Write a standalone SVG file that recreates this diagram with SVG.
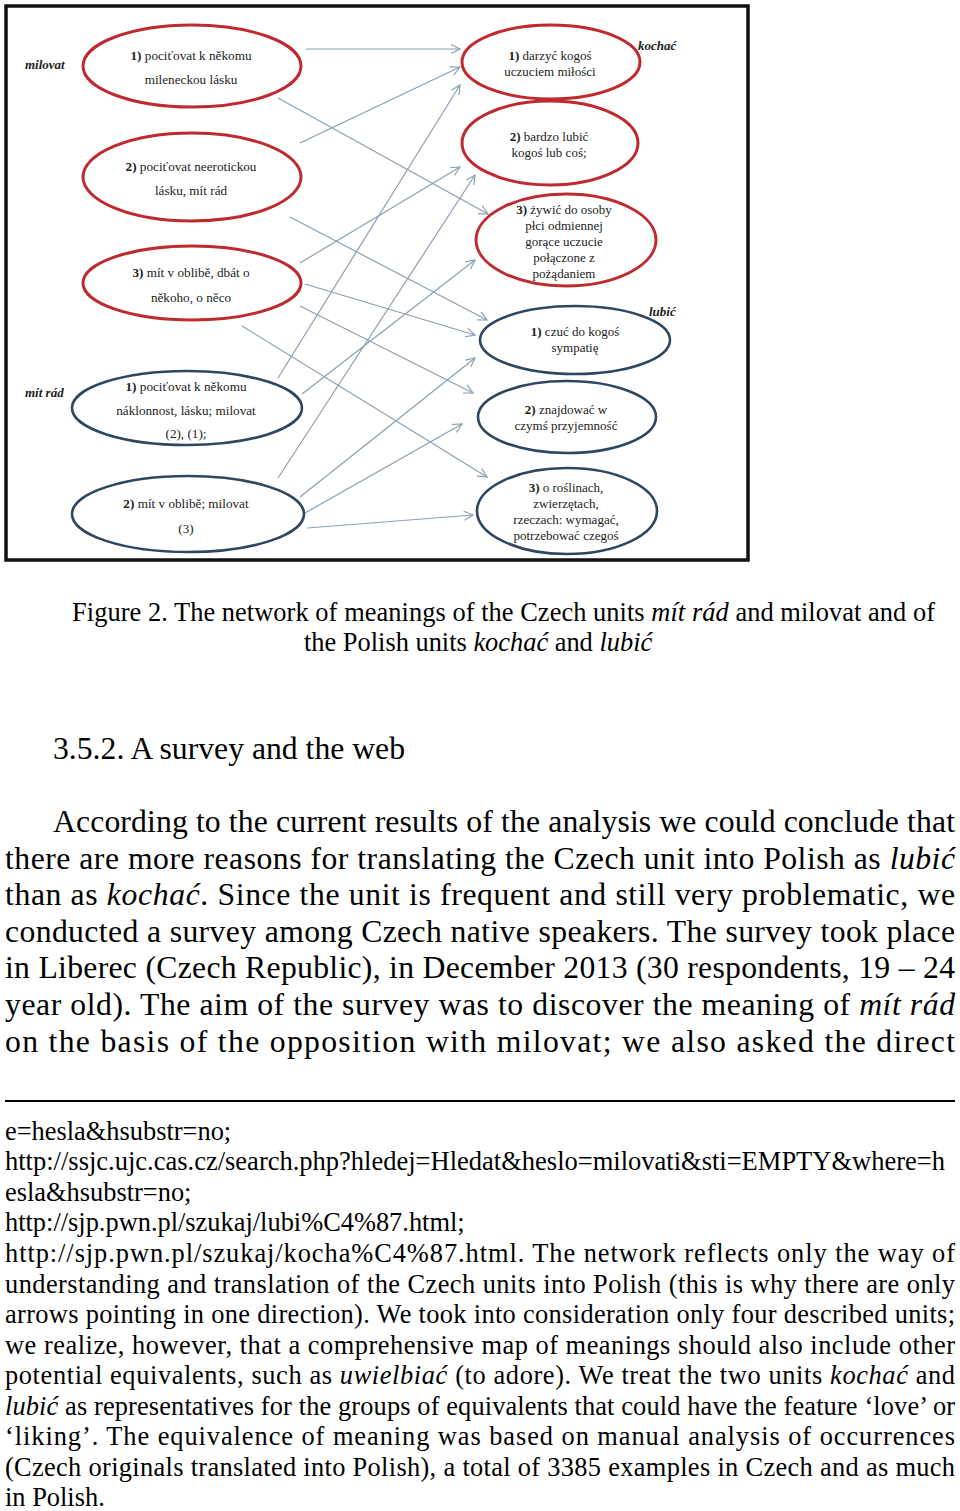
<svg xmlns="http://www.w3.org/2000/svg" width="960" height="1511" viewBox="0 0 960 1511">
<defs>
<marker id="ah" markerWidth="12" markerHeight="12" refX="10" refY="6" orient="auto" markerUnits="userSpaceOnUse">
<path d="M1,1.5 L10,6 L1,10.5" fill="none" stroke="#8b9fb2" stroke-width="1.2"/>
</marker>
<style>
.red{fill:#fff;stroke:#be2a2e;stroke-width:3}
.blue{fill:#fff;stroke:#2f4661;stroke-width:2.6}
.et{font-family:"Liberation Serif","Times New Roman",serif;font-size:13.2px;fill:#222;text-anchor:middle}
.rt{font-family:"Liberation Serif","Times New Roman",serif;font-size:13px;fill:#222;text-anchor:middle}
.lab{font-family:"Liberation Serif","Times New Roman",serif;font-size:13px;font-style:italic;font-weight:bold;fill:#222}
.c line{stroke:#8b9fb2;stroke-width:1.2;marker-end:url(#ah)}
.body{font-family:"Liberation Serif","Times New Roman",serif;fill:#000}
.cap{font-size:26.4px}
.para{font-size:31.7px}
.fn{font-size:26.4px}
.i{font-style:italic}
</style>
</defs>
<rect x="0" y="0" width="960" height="1511" fill="#fff"/>
<rect x="6" y="6" width="742" height="554" fill="#fff" stroke="#111" stroke-width="3.5"/>

<g class="c">
<line x1="306" y1="49" x2="460" y2="49"/>
<line x1="278" y1="98" x2="488" y2="214"/>
<line x1="300" y1="143" x2="460" y2="67"/>
<line x1="290" y1="217" x2="487" y2="320"/>
<line x1="300" y1="263" x2="460" y2="167"/>
<line x1="305" y1="284" x2="475" y2="335"/>
<line x1="300" y1="306" x2="473" y2="393"/>
<line x1="242" y1="326" x2="487" y2="477"/>
<line x1="278" y1="378" x2="460" y2="85"/>
<line x1="302" y1="394" x2="475" y2="260"/>
<line x1="278" y1="478" x2="475" y2="175"/>
<line x1="300" y1="497" x2="475" y2="358"/>
<line x1="305" y1="513" x2="462" y2="424"/>
<line x1="307" y1="528" x2="473" y2="515"/>
</g>

<text class="lab" x="25" y="69">milovat</text>
<text class="lab" x="25" y="397">mít rád</text>
<text class="lab" x="638" y="50">kochać</text>
<text class="lab" x="649" y="316">lubić</text>

<g id="m1">
<ellipse class="red" cx="192" cy="66" rx="109" ry="41"/>
<text class="et" x="191" y="60"><tspan font-weight="bold">1)</tspan> pociťovat k někomu</text>
<text class="et" x="191" y="84">mileneckou lásku</text>
</g>
<g id="m2">
<ellipse class="red" cx="192" cy="177" rx="109" ry="44"/>
<text class="et" x="191" y="171"><tspan font-weight="bold">2)</tspan> pociťovat neerotickou</text>
<text class="et" x="191" y="195">lásku, mít rád</text>
</g>
<g id="m3">
<ellipse class="red" cx="192" cy="283" rx="109" ry="37"/>
<text class="et" x="191" y="277"><tspan font-weight="bold">3)</tspan> mít v oblibě, dbát o</text>
<text class="et" x="191" y="302">někoho, o něco</text>
</g>
<g id="r1m">
<ellipse class="blue" cx="187" cy="408" rx="115" ry="37"/>
<text class="et" x="186" y="391"><tspan font-weight="bold">1)</tspan> pociťovat k někomu</text>
<text class="et" x="186" y="415">náklonnost, lásku; milovat</text>
<text class="et" x="186" y="438">(2), (1);</text>
</g>
<g id="r2m">
<ellipse class="blue" cx="188" cy="514" rx="116" ry="38"/>
<text class="et" x="186" y="508"><tspan font-weight="bold">2)</tspan> mít v oblibě; milovat</text>
<text class="et" x="186" y="533">(3)</text>
</g>

<g id="k1">
<ellipse class="red" cx="551" cy="62" rx="89" ry="37"/>
<text class="rt" x="550" y="60"><tspan font-weight="bold">1)</tspan> darzyć kogoś</text>
<text class="rt" x="550" y="76">uczuciem miłości</text>
</g>
<g id="k2">
<ellipse class="red" cx="550" cy="143" rx="88" ry="42"/>
<text class="rt" x="549" y="141"><tspan font-weight="bold">2)</tspan> bardzo lubić</text>
<text class="rt" x="549" y="157">kogoś lub coś;</text>
</g>
<g id="k3">
<ellipse class="red" cx="566" cy="240" rx="90" ry="46"/>
<text class="rt" x="564" y="214"><tspan font-weight="bold">3)</tspan> żywić do osoby</text>
<text class="rt" x="564" y="230">płci odmiennej</text>
<text class="rt" x="564" y="246">gorące uczucie</text>
<text class="rt" x="564" y="262">połączone z</text>
<text class="rt" x="564" y="278">pożądaniem</text>
</g>
<g id="l1">
<ellipse class="blue" cx="575" cy="340" rx="95" ry="34"/>
<text class="rt" x="575" y="336"><tspan font-weight="bold">1)</tspan> czuć do kogoś</text>
<text class="rt" x="575" y="352">sympatię</text>
</g>
<g id="l2">
<ellipse class="blue" cx="567" cy="417" rx="89" ry="36"/>
<text class="rt" x="566" y="414"><tspan font-weight="bold">2)</tspan> znajdować  w</text>
<text class="rt" x="566" y="430">czymś przyjemność</text>
</g>
<g id="l3">
<ellipse class="blue" cx="567" cy="511" rx="90" ry="43"/>
<text class="rt" x="566" y="492"><tspan font-weight="bold">3)</tspan> o roślinach,</text>
<text class="rt" x="566" y="508">zwierzętach,</text>
<text class="rt" x="566" y="524">rzeczach: wymagać,</text>
<text class="rt" x="566" y="540">potrzebować  czegoś</text>
</g>

<g class="body">
<text class="cap" x="72" y="621" textLength="863" lengthAdjust="spacing">Figure 2. The network of meanings of the Czech units <tspan class="i">mít rád</tspan> and milovat and of</text>
<text class="cap" x="304" y="651">the Polish units <tspan class="i">kochać</tspan> and <tspan class="i">lubić</tspan></text>
<text class="para" x="53" y="759">3.5.2. A survey and the web</text>
<text class="para" x="53" y="832" textLength="902" lengthAdjust="spacing">According to the current results of the analysis we could conclude that</text>
<text class="para" x="5" y="869" textLength="950" lengthAdjust="spacing">there are more reasons for translating the Czech unit into Polish as <tspan class="i">lubić</tspan></text>
<text class="para" x="5" y="905" textLength="950" lengthAdjust="spacing">than as <tspan class="i">kochać</tspan>. Since the unit is frequent and still very problematic, we</text>
<text class="para" x="5" y="942" textLength="950" lengthAdjust="spacing">conducted a survey among Czech native speakers. The survey took place</text>
<text class="para" x="5" y="978" textLength="950" lengthAdjust="spacing">in Liberec (Czech Republic), in December 2013 (30 respondents, 19 – 24</text>
<text class="para" x="5" y="1015" textLength="950" lengthAdjust="spacing">year old). The aim of the survey was to discover the meaning of <tspan class="i">mít rád</tspan></text>
<text class="para" x="5" y="1052" textLength="950" lengthAdjust="spacing">on the basis of the opposition with milovat; we also asked the direct</text>
<line x1="5" y1="1101" x2="955" y2="1101" stroke="#000" stroke-width="2"/>
<text class="fn" x="5" y="1140">e=hesla&amp;hsubstr=no;</text>
<text class="fn" x="5" y="1170" textLength="940" lengthAdjust="spacingAndGlyphs">http://ssjc.ujc.cas.cz/search.php?hledej=Hledat&amp;heslo=milovati&amp;sti=EMPTY&amp;where=h</text>
<text class="fn" x="5" y="1201">esla&amp;hsubstr=no;</text>
<text class="fn" x="5" y="1231">http://sjp.pwn.pl/szukaj/lubi%C4%87.html;</text>
<text class="fn" x="5" y="1262" textLength="950" lengthAdjust="spacing">http://sjp.pwn.pl/szukaj/kocha%C4%87.html. The network reflects only the way of</text>
<text class="fn" x="5" y="1293" textLength="950" lengthAdjust="spacing">understanding and translation of the Czech units into Polish (this is why there are only</text>
<text class="fn" x="5" y="1323" textLength="950" lengthAdjust="spacing">arrows pointing in one direction). We took into consideration only four described units;</text>
<text class="fn" x="5" y="1354" textLength="950" lengthAdjust="spacing">we realize, however, that a comprehensive map of meanings should also include other</text>
<text class="fn" x="5" y="1384" textLength="950" lengthAdjust="spacing">potential equivalents, such as <tspan class="i">uwielbiać</tspan> (to adore). We treat the two units <tspan class="i">kochać</tspan> and</text>
<text class="fn" x="5" y="1415" textLength="950" lengthAdjust="spacing"><tspan class="i">lubić</tspan> as representatives for the groups of equivalents that could have the feature ‘love’ or</text>
<text class="fn" x="5" y="1445" textLength="950" lengthAdjust="spacing">‘liking’. The equivalence of meaning was based on manual analysis of occurrences</text>
<text class="fn" x="5" y="1476" textLength="950" lengthAdjust="spacing">(Czech originals translated into Polish), a total of 3385 examples in Czech and as much</text>
<text class="fn" x="5" y="1506">in Polish.</text>
</g>
</svg>
